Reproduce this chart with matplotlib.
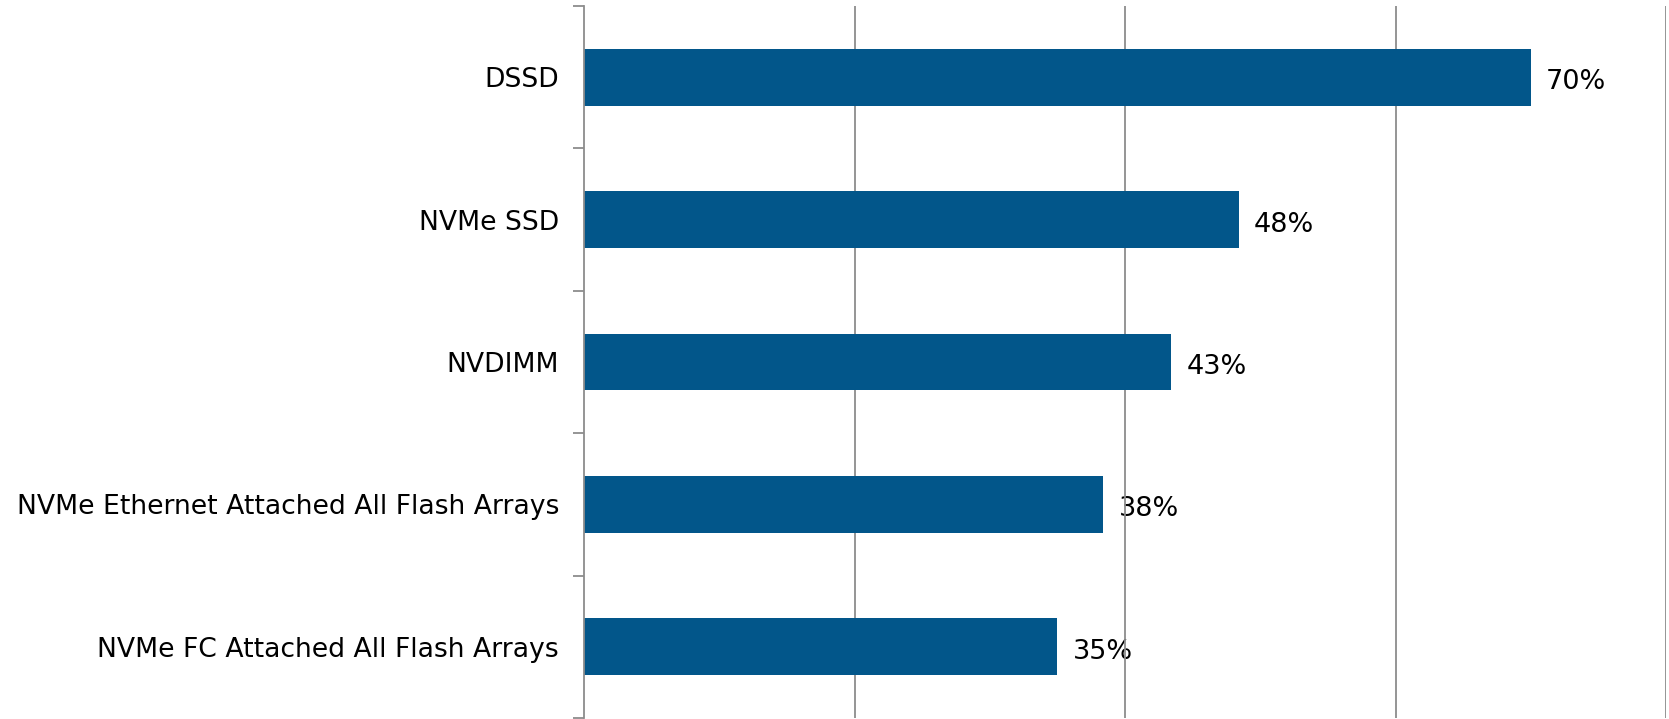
import matplotlib
matplotlib.use("Agg")
import matplotlib.pyplot as plt
import numpy as np

# ── Data ──────────────────────────────────────────────────────────────────────
categories = [
    "DSSD",
    "NVMe SSD",
    "NVDIMM",
    "NVMe Ethernet Attached All Flash Arrays",
    "NVMe FC Attached All Flash Arrays",
]
values = [70.0, 48.4, 43.4, 38.4, 35.0]   # bar lengths
labels = ["70%", "48%", "43%", "38%", "35%"]

BAR_COLOR = "#02568A"
GRID_COLOR = "#8C8C8C"

# ── Figure ────────────────────────────────────────────────────────────────────
plt.rcParams["font.family"] = ["DejaVu Sans"]
fig = plt.figure(figsize=(16.69, 7.19), dpi=100)
ax = fig.add_axes([584 / 1669, 1 / 719, (1666 - 584) / 1669, (718 - 6) / 719])

y = np.arange(len(categories))
ax.barh(y, values, height=0.40, color=BAR_COLOR, zorder=3)

# value labels sit under the gridlines, like the original
for yi, v, lab in zip(y, values, labels):
    ax.annotate(lab, (v, yi), xytext=(11, -1.5), textcoords="offset points",
                va="center_baseline", ha="left", fontsize=19.5, color="black",
                zorder=1)

ax.set_xlim(0, 80)
ax.set_ylim(len(categories) - 0.5, -0.5)

ax.set_xticks([20, 40, 60, 80])
ax.set_axisbelow(False)
ax.xaxis.grid(True, color=GRID_COLOR, linewidth=1.3)
ax.tick_params(axis="x", length=0, labelbottom=False)

# category labels at centres, tick marks at boundaries
ax.set_yticks(y)
ax.set_yticklabels(categories, fontsize=19.2)
ax.tick_params(axis="y", which="major", length=0, pad=18)
ax.set_yticks(np.arange(-0.5, len(categories)), minor=True)
ax.tick_params(axis="y", which="minor", length=8, width=1.3, color=GRID_COLOR)

for side in ("top", "right", "bottom"):
    ax.spines[side].set_visible(False)
ax.spines["left"].set_color(GRID_COLOR)
ax.spines["left"].set_linewidth(1.3)
ax.spines["left"].set_zorder(4)

fig.savefig("out.png", dpi=100, facecolor="white")
